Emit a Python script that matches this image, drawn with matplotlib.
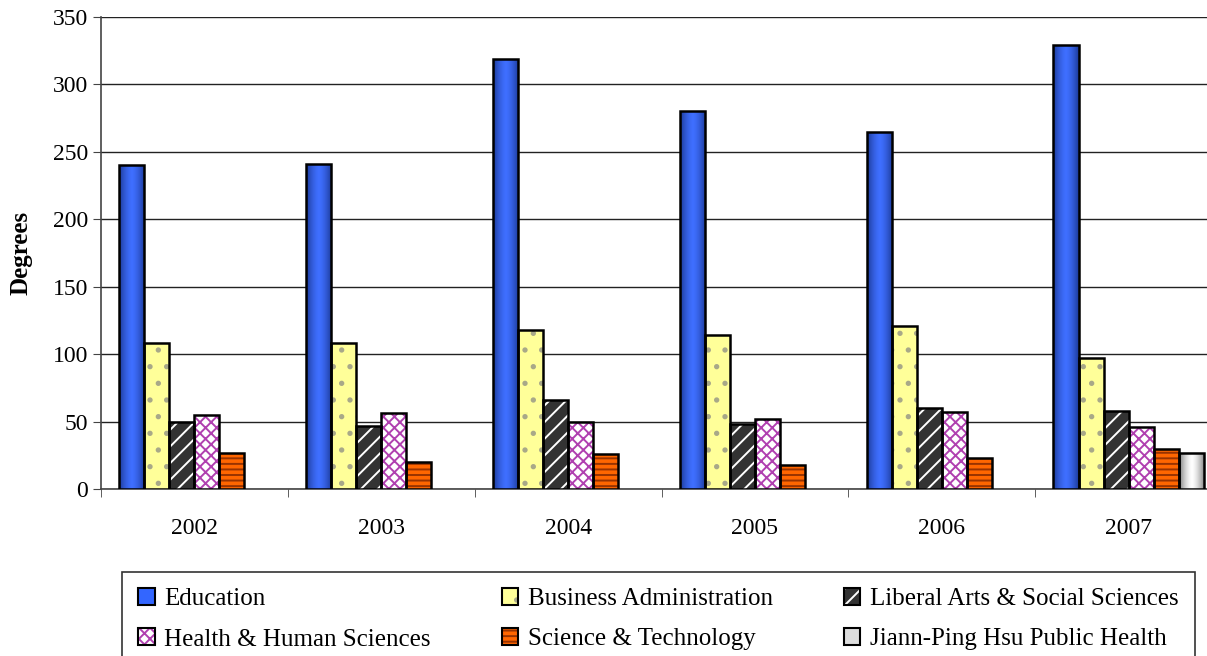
"""Degrees awarded by college, 2002-2007, as a clustered bar chart."""

import numpy as np
import matplotlib.pyplot as plt
from matplotlib.colors import to_rgb
from matplotlib.patches import Patch
from matplotlib.legend_handler import HandlerTuple

YEARS = ["2002", "2003", "2004", "2005", "2006", "2007"]
COLLEGES = [
    "Education",
    "Business Administration",
    "Liberal Arts & Social Sciences",
    "Health & Human Sciences",
    "Science & Technology",
    "Jiann-Ping Hsu Public Health",
]
EDUCATION = [240, 241, 319, 280, 265, 329]
BUSINESS = [108, 108, 118, 114, 121, 97]
LIBERAL_ARTS = [50, 47, 66, 48, 60, 58]
HEALTH = [55, 56, 50, 52, 57, 46]
SCIENCE = [27, 20, 26, 18, 23, 30]
PUBLIC_HEALTH = [np.nan, np.nan, np.nan, np.nan, np.nan, 27]

# face colour, hatch pattern, hatch colour, gradient (edge colour, centre colour)
STYLES = [
    ("#3366ff", None, None, ("#1c3a99", "#3f6fff")),
    ("#ffff99", ".", "#a8a888", None),
    ("#333333", "//", "#ffffff", None),
    ("#ffffff", "xxx", "#b040b0", None),
    ("#ff6600", "---", "#993300", None),
    ("#dddddd", None, None, ("#808080", "#ffffff")),
]

plt.rcParams["font.family"] = ["Liberation Serif", "DejaVu Serif"]
plt.rcParams["hatch.linewidth"] = 1.4

fig = plt.figure(figsize=(12.07, 6.56), dpi=100)
ax = fig.add_axes([101 / 1207, 167 / 656, 1121 / 1207, 472 / 656])

series = [EDUCATION, BUSINESS, LIBERAL_ARTS, HEALTH, SCIENCE, PUBLIC_HEALTH]
x = np.arange(len(YEARS))
w = 0.134
handles = []
for i, (vals, (face, hatch, hcol, grad)) in enumerate(zip(series, STYLES)):
    pos = x + (i - 2.5) * w
    bars = ax.bar(pos, vals, w, color=face, edgecolor=hcol or face,
                  hatch=hatch, linewidth=0, zorder=3)
    if grad:
        edge, centre = grad
        ramp = np.abs(np.linspace(-1, 1, 64)) ** 1.5
        c0 = np.array(to_rgb(centre))
        c1 = np.array(to_rgb(edge))
        img = (c0[None, :] * (1 - ramp[:, None]) + c1[None, :] * ramp[:, None])[None, :, :]
        for b in bars:
            if np.isnan(b.get_height()):
                continue
            im = ax.imshow(img, extent=(b.get_x(), b.get_x() + b.get_width(),
                                        0, b.get_height()),
                           aspect="auto", zorder=3.5)
            im.set_clip_path(b)
    ax.bar(pos, vals, w, fill=False, edgecolor="black", linewidth=1.8, zorder=4)
    handles.append((
        Patch(facecolor=face, edgecolor=hcol or face, hatch=hatch, linewidth=0),
        Patch(fill=False, edgecolor="black", linewidth=1.5),
    ))

ax.set_xlim(-0.5, len(YEARS) - 0.5)
ax.set_ylim(0, 350)
ax.set_yticks(range(0, 351, 50))
ax.set_xticks(x)
ax.set_xticklabels(YEARS)
ax.set_xticks(np.arange(-0.5, len(YEARS) - 0.4, 1), minor=True)
ax.tick_params(axis="x", which="major", length=0, pad=21, labelsize=17)
ax.tick_params(axis="x", which="minor", length=6, color="#444444")
ax.tick_params(axis="y", length=6, labelsize=17, color="#444444")
ax.yaxis.grid(True, color="#222222", linewidth=1, zorder=0)
for side in ("top", "right"):
    ax.spines[side].set_visible(False)
for side in ("left", "bottom"):
    ax.spines[side].set_color("#444444")
    ax.spines[side].set_linewidth(1.2)
ax.set_ylabel("Degrees", fontsize=18, fontweight="bold", labelpad=14)

# legend reads row by row; matplotlib fills column by column
order = [0, 3, 1, 4, 2, 5]
leg = fig.legend(
    [handles[k] for k in order], [COLLEGES[k] for k in order],
    ncol=3, loc="upper left",
    bbox_to_anchor=(122 / 1207, 1 - 572 / 656, 1073 / 1207, 0.0),
    mode="expand", fontsize=18, frameon=True, fancybox=False,
    edgecolor="black", handlelength=0.65, handleheight=0.65,
    handletextpad=0.4, labelspacing=0.72, borderpad=0.65,
    borderaxespad=0.0,
    handler_map={tuple: HandlerTuple(ndivide=1)},
)
leg.get_frame().set_linewidth(1.2)

fig.savefig("out.png", dpi=100)
